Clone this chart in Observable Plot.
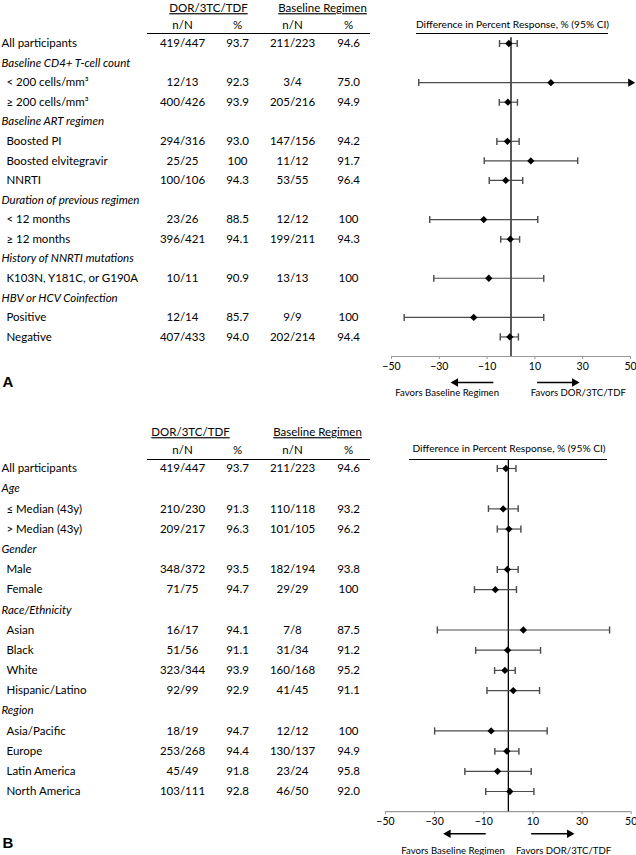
<!DOCTYPE html>
<html><head><meta charset="utf-8">
<script src="https://cdn.jsdelivr.net/npm/d3@7"></script>
<script src="https://cdn.jsdelivr.net/npm/@observablehq/plot@0.6"></script>
<style>
html,body{margin:0;padding:0;background:#fff;}
#chart{width:636px;}
#chart svg{display:block;}
</style></head><body><div id="chart"></div>
<script>
// ---------- Panel A data ----------
const labelsA = ["All participants","Baseline CD4+ T-cell count","< 200 cells/mm³","≥ 200 cells/mm³","Baseline ART regimen","Boosted PI","Boosted elvitegravir","NNRTI","Duration of previous regimen","< 12 months","≥ 12 months","History of NNRTI mutations","K103N, Y181C, or G190A","HBV or HCV Coinfection","Positive","Negative"];
const typesA = ["total","group","item","item","group","item","item","item","group","item","item","group","item","group","item","item"];
const dorNA = ["419/447",null,"12/13","400/426",null,"294/316","25/25","100/106",null,"23/26","396/421",null,"10/11",null,"12/14","407/433"];
const dorPctA = [93.7,null,92.3,93.9,null,93.0,100,94.3,null,88.5,94.1,null,90.9,null,85.7,94.0];
const baseNA = ["211/223",null,"3/4","205/216",null,"147/156","11/12","53/55",null,"12/12","199/211",null,"13/13",null,"9/9","202/214"];
const basePctA = [94.6,null,75.0,94.9,null,94.2,91.7,96.4,null,100,94.3,null,100,null,100,94.4];
const diffA = [-0.9,null,16.7,-1.3,null,-1.5,8.3,-2.2,null,-11.4,-0.3,null,-9.3,null,-15.6,-0.5];
const lowA  = [-4.8,null,-38.6,-4.9,null,-5.9,-11.2,-9.1,null,-34.0,-4.3,null,-32.3,null,-44.7,-4.5];
const highA = [2.6,null,72.0,2.7,null,3.4,27.9,4.9,null,11.2,3.6,null,13.7,null,13.7,3.1];

// ---------- Panel B data ----------
const labelsB = ["All participants","Age","≤ Median (43y)","> Median (43y)","Gender","Male","Female","Race/Ethnicity","Asian","Black","White","Hispanic/Latino","Region","Asia/Pacific","Europe","Latin America","North America"];
const typesB = ["total","group","item","item","group","item","item","group","item","item","item","item","group","item","item","item","item"];
const dorNB = ["419/447",null,"210/230","209/217",null,"348/372","71/75",null,"16/17","51/56","323/344","92/99",null,"18/19","253/268","45/49","103/111"];
const dorPctB = [93.7,null,91.3,96.3,null,93.5,94.7,null,94.1,91.1,93.9,92.9,null,94.7,94.4,91.8,92.8];
const baseNB = ["211/223",null,"110/118","101/105",null,"182/194","29/29",null,"7/8","31/34","160/168","41/45",null,"12/12","130/137","23/24","46/50"];
const basePctB = [94.6,null,93.2,96.2,null,93.8,100,null,87.5,91.2,95.2,91.1,null,100,94.9,95.8,92.0];
const diffB = [-1.0,null,-2.1,0.2,null,-0.4,-5.3,null,6.1,-0.3,-1.4,2.0,null,-7.0,-0.6,-4.4,0.6];
const lowB  = [-4.5,null,-8.1,-4.5,null,-4.5,-13.8,null,-28.9,-13.3,-5.6,-8.7,null,-30.0,-5.5,-17.7,-9.2];
const highB = [3.1,null,4.0,5.1,null,4.0,3.3,null,41.2,13.1,2.8,12.7,null,15.8,4.3,9.3,10.4];

// ---------- Shared texts ----------
const groupHeads = ["DOR/3TC/TDF","Baseline Regimen"];
const subHeads = ["n/N","%","n/N","%"];
const forestTitle = "Difference in Percent Response, % (95% CI)";
const favorLabels = ["Favors Baseline Regimen","Favors DOR/3TC/TDF"];
const xTicks = [-50,-30,-10,10,30,50];
const xDomain = [-50,50];

const FONT = "Lato, 'DejaVu Sans', sans-serif";
const fmtPct = v => v === 100 ? "100" : v.toFixed(1);

function buildPanel(d, L) {
  const n = d.labels.length;
  const rows = d.labels.map((label, i) => ({
    i, label, type: d.types[i],
    dorN: d.dorN[i], dorPct: d.dorPct[i], baseN: d.baseN[i], basePct: d.basePct[i],
    diff: d.diff[i], low: d.low[i], high: d.high[i]
  }));
  const dataRows = rows.filter(r => r.dorN != null);
  const ci = rows.filter(r => r.diff != null);
  const ciIn = ci.filter(r => r.high <= xDomain[1] && r.low >= xDomain[0]);
  const ciOver = ci.filter(r => r.high > xDomain[1]);
  const cols = [
    {key: "dorN", x: L.colX[0], f: v => v},
    {key: "dorPct", x: L.colX[1], f: fmtPct},
    {key: "baseN", x: L.colX[2], f: v => v},
    {key: "basePct", x: L.colX[3], f: fmtPct}
  ];
  const arrows = L.favorArrows.map(a => ({...a, y: n}));
  const favTexts = L.favorTextX.map((x, k) => ({x, y: n, label: favorLabels[k]}));
  const ciStroke = "#4d4d4d";
  const head = {frameAnchor: "top-left", textAnchor: "middle", lineAnchor: "middle"};

  const svg = Plot.plot({
    width: 636,
    height: L.height,
    marginTop: 0, marginRight: 0, marginLeft: 0,
    marginBottom: L.height - L.axisY,
    x: {domain: xDomain, range: L.xRange, label: null},
    y: {domain: [0, n], range: [L.row0, L.axisY], axis: null},
    style: {fontFamily: FONT, fontSize: "11.5px", color: "#000", background: "#fff", overflow: "visible"},
    marks: [
      // column group headers
      ...groupHeads.map((g, k) => Plot.text([g], {...head, text: t => t, dx: L.groupX[k], dy: L.groupDy})),
      ...subHeads.map((s, k) => Plot.text([s], {...head, text: t => t, dx: L.colX[k], dy: L.subDy})),
      // table header rule
      Plot.ruleY([0], {dy: L.ruleDy, insetLeft: L.tableRule[0], insetRight: 636 - L.tableRule[1], stroke: "#000", strokeWidth: 1.2}),
      // forest title & its rule
      Plot.text([forestTitle], {...head, text: t => t, dx: L.titleX, dy: L.titleDy, fontSize: 10.2}),
      Plot.ruleY([0], {dy: L.ruleDy, insetLeft: L.forestRule[0], insetRight: 636 - L.forestRule[1], stroke: "#000", strokeWidth: 1.2}),
      // row labels
      Plot.text(rows.filter(r => r.type === "total"), {y: "i", text: "label", frameAnchor: "left", textAnchor: "start", dx: 1}),
      Plot.text(rows.filter(r => r.type === "group"), {y: "i", text: "label", frameAnchor: "left", textAnchor: "start", dx: 1, fontStyle: "italic"}),
      Plot.text(rows.filter(r => r.type === "item"), {y: "i", text: "label", frameAnchor: "left", textAnchor: "start", dx: 6}),
      // table values
      ...cols.map(c => Plot.text(dataRows, {y: "i", text: r => c.f(r[c.key]), frameAnchor: "left", dx: c.x, textAnchor: "middle"})),
      // x axis
      Plot.ruleY([n], {x1: () => xDomain[0], x2: () => xDomain[1], stroke: "#9a9a9a", strokeWidth: 1.2}),
      Plot.axisX(xTicks, {tickSize: 3, stroke: "#9a9a9a", tickPadding: 3, fontSize: 10.5, label: null}),
      // zero line
      Plot.ruleX([0], {y1: () => L.zeroTop, y2: () => n, stroke: "#000", strokeWidth: 1.3}),
      // CIs
      Plot.link(ciIn, {x1: "low", x2: "high", y1: "i", y2: "i", stroke: ciStroke, strokeWidth: 1.2, markerStart: "tick", markerEnd: "tick"}),
      Plot.link(ciOver, {x1: "low", x2: () => xDomain[1], y1: "i", y2: "i", stroke: ciStroke, strokeWidth: 1.2, markerStart: "tick"}),
      Plot.dot(ciOver, {x: () => xDomain[1], y: "i", symbol: "triangle", rotate: 90, r: 3, fill: "#000", stroke: null}),
      Plot.dot(ci, {x: "diff", y: "i", symbol: "diamond2", r: 3.3, fill: "#000", stroke: null}),
      // favors arrows and text
      Plot.link(arrows, {x1: "from", x2: "to", y1: "y", y2: "y", dy: L.arrowDy, stroke: "#000", strokeWidth: 1.5}),
      Plot.dot(arrows, {x: "to", y: "y", dy: L.arrowDy, symbol: "triangle", rotate: a => a.to > a.from ? 90 : -90, r: 3.2, fill: "#000", stroke: null}),
      Plot.text(favTexts, {x: "x", y: "y", text: "label", dy: L.favorDy, fontSize: 9.6}),
      // panel letter
      Plot.text([L.letter], {text: t => t, frameAnchor: "bottom-left", dx: 2, dy: L.letterDy, textAnchor: "start", fontFamily: "'Liberation Sans', Arial, sans-serif", fontWeight: "bold", fontSize: 15})
    ]
  });
  d3.select(svg).selectAll("text").filter(function() { return groupHeads.includes(this.textContent); })
    .attr("text-decoration", "underline");
  return svg;
}

const colX = [182, 237, 292, 348];

const panelA = buildPanel(
  {labels: labelsA, types: typesA, dorN: dorNA, dorPct: dorPctA, baseN: baseNA, basePct: basePctA, diff: diffA, low: lowA, high: highA},
  {height: 420, axisY: 356, row0: 43, xRange: [391, 630], colX,
   groupX: [208, 322], groupDy: 8, subDy: 25, ruleDy: -10, tableRule: [147, 370],
   titleX: 512, titleDy: 24, forestRule: [416, 608], zeroTop: -0.3,
   favorArrows: [{from: -7.4, to: -23.2}, {from: 10.9, to: 26.6}], favorTextX: [-26.7, 28.2],
   arrowDy: 26, favorDy: 36, letter: "A", letterDy: 30}
);
const panelB = buildPanel(
  {labels: labelsB, types: typesB, dorN: dorNB, dorPct: dorPctB, baseN: baseNB, basePct: basePctB, diff: diffB, low: lowB, high: highB},
  {height: 435, axisY: 391.2, row0: 48, xRange: [385, 630.7], colX,
   groupX: [190, 317], groupDy: 12, subDy: 30, ruleDy: -9, tableRule: [147, 370],
   titleX: 508.5, titleDy: 28, forestRule: [409, 607], zeroTop: -0.4,
   favorArrows: [{from: -9.2, to: -24.5}, {from: 9.3, to: 24.9}], favorTextX: [-22.5, 22.5],
   arrowDy: 22, favorDy: 39, letter: "B", letterDy: 36}
);
document.getElementById("chart").append(panelA, panelB);
</script>
</body></html>
